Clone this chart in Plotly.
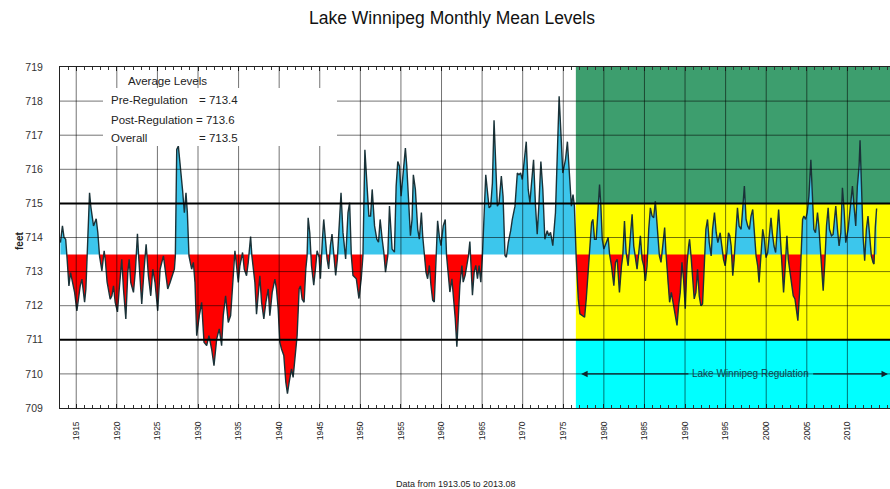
import numpy as np
import plotly.graph_objects as go

# ---------------------------------------------------------------- data
title_text = "Lake Winnipeg Monthly Mean Levels"
footer_text = "Data from 1913.05 to 2013.08"
reg_label = "Lake Winnipeg Regulation"

pre_avg = 713.4
post_avg = 713.6
overall_avg = 713.5

reg_start = 1976.55          # start of regulated operation
upper_limit = 715            # top of regulation range
lower_limit = 711            # bottom of regulation range
x_range = [1913.0, 2015.25]
y_range = [709, 719]
tick_years = list(range(1915, 2015, 5))
tick_levels = list(range(709, 720))

# monthly mean level, read at turning points (decimal year, feet)
years = [
    1913.05, 1913.30, 1913.50, 1913.70, 1913.85, 1913.95, 1914.10, 1914.30, 1914.55, 1914.80,
    1915.08, 1915.29, 1915.49, 1915.70, 1915.90, 1916.03, 1916.19, 1916.33, 1916.45, 1916.64,
    1916.80, 1916.93, 1917.13, 1917.46, 1917.66, 1917.87, 1918.16, 1918.44, 1918.60, 1918.80,
    1918.98, 1919.18, 1919.39, 1919.59, 1919.80, 1920.08, 1920.30, 1920.41, 1920.61, 1920.82,
    1921.11, 1921.35, 1921.52, 1921.72, 1922.05, 1922.30, 1922.54, 1922.70, 1923.07, 1923.36,
    1923.61, 1923.89, 1924.18, 1924.43, 1924.71, 1925.04, 1925.33, 1925.74, 1926.07, 1926.27,
    1926.56, 1926.84, 1927.09, 1927.21, 1927.38, 1927.58, 1927.79, 1928.11, 1928.32, 1928.52,
    1928.69, 1928.89, 1929.22, 1929.43, 1929.63, 1929.84, 1930.16, 1930.45, 1930.74, 1931.07,
    1931.35, 1931.68, 1931.97, 1932.30, 1932.62, 1932.91, 1933.11, 1933.40, 1933.73, 1934.02,
    1934.26, 1934.43, 1934.55, 1934.75, 1934.96, 1935.16, 1935.49, 1935.70, 1935.98, 1936.19,
    1936.48, 1936.64, 1937.01, 1937.21, 1937.42, 1937.62, 1937.83, 1938.11, 1938.36, 1938.65,
    1938.85, 1939.14, 1939.47, 1939.67, 1939.88, 1940.08, 1940.29, 1940.57, 1940.82, 1941.02,
    1941.23, 1941.52, 1941.72, 1941.93, 1942.21, 1942.46, 1942.62, 1942.83, 1943.07, 1943.28,
    1943.44, 1943.57, 1943.77, 1943.98, 1944.26, 1944.51, 1944.67, 1944.92, 1945.08, 1945.33,
    1945.49, 1945.70, 1945.90, 1946.10, 1946.31, 1946.51, 1946.72, 1946.96, 1947.17, 1947.37,
    1947.62, 1947.86, 1948.19, 1948.48, 1948.68, 1948.89, 1949.09, 1949.50, 1949.83, 1950.11,
    1950.32, 1950.56, 1950.81, 1951.05, 1951.26, 1951.46, 1951.75, 1952.03, 1952.24, 1952.44,
    1952.69, 1952.89, 1953.10, 1953.38, 1953.59, 1953.91, 1954.20, 1954.41, 1954.61, 1954.82,
    1955.02, 1955.31, 1955.55, 1955.72, 1955.96, 1956.17, 1956.37, 1956.53, 1956.78, 1957.07,
    1957.27, 1957.52, 1957.68, 1957.88, 1958.09, 1958.29, 1958.50, 1958.70, 1958.91, 1959.11,
    1959.31, 1959.52, 1959.72, 1959.93, 1960.21, 1960.46, 1960.62, 1960.83, 1961.03, 1961.28,
    1961.48, 1961.69, 1961.89, 1962.10, 1962.26, 1962.51, 1962.67, 1962.91, 1963.12, 1963.32,
    1963.49, 1963.65, 1963.81, 1964.02, 1964.22, 1964.43, 1964.63, 1964.84, 1965.04, 1965.45,
    1965.66, 1965.86, 1966.06, 1966.27, 1966.47, 1966.68, 1966.88, 1967.09, 1967.37, 1967.58,
    1967.82, 1967.99, 1968.23, 1968.52, 1968.72, 1969.05, 1969.34, 1969.54, 1969.74, 1969.95,
    1970.19, 1970.44, 1970.68, 1970.89, 1971.09, 1971.34, 1971.58, 1971.79, 1971.99, 1972.24,
    1972.48, 1972.73, 1973.02, 1973.22, 1973.43, 1973.71, 1974.04, 1974.24, 1974.49, 1974.69,
    1974.94, 1975.27, 1975.51, 1975.75, 1976.00, 1976.20, 1976.37, 1976.60, 1976.85, 1977.05,
    1977.34, 1977.63, 1977.83, 1978.08, 1978.24, 1978.49, 1978.65, 1978.85, 1979.06, 1979.26,
    1979.47, 1979.63, 1979.80, 1980.00, 1980.29, 1980.53, 1980.70, 1980.94, 1981.23, 1981.43,
    1981.64, 1981.92, 1982.17, 1982.33, 1982.54, 1982.74, 1982.99, 1983.23, 1983.48, 1983.68,
    1983.89, 1984.09, 1984.30, 1984.50, 1984.71, 1984.91, 1985.12, 1985.32, 1985.53, 1985.73,
    1985.94, 1986.14, 1986.34, 1986.51, 1986.67, 1986.84, 1987.04, 1987.25, 1987.49, 1987.65,
    1987.90, 1988.10, 1988.31, 1988.60, 1988.80, 1989.01, 1989.21, 1989.41, 1989.62, 1989.82,
    1990.03, 1990.23, 1990.44, 1990.56, 1990.77, 1990.93, 1991.13, 1991.34, 1991.54, 1991.75,
    1991.95, 1992.16, 1992.36, 1992.57, 1992.77, 1992.98, 1993.22, 1993.39, 1993.63, 1993.84,
    1994.04, 1994.33, 1994.53, 1994.74, 1994.94, 1995.15, 1995.35, 1995.51, 1995.68, 1995.88,
    1996.05, 1996.25, 1996.46, 1996.66, 1996.91, 1997.07, 1997.31, 1997.52, 1997.72, 1997.93,
    1998.13, 1998.34, 1998.54, 1998.75, 1998.95, 1999.12, 1999.32, 1999.57, 1999.77, 1999.98,
    2000.18, 2000.38, 2000.59, 2000.75, 2000.96, 2001.16, 2001.37, 2001.53, 2001.74, 2001.94,
    2002.14, 2002.35, 2002.55, 2002.72, 2002.92, 2003.13, 2003.33, 2003.54, 2003.74, 2003.90,
    2004.11, 2004.27, 2004.48, 2004.64, 2004.85, 2005.05, 2005.26, 2005.50, 2005.67, 2005.87,
    2006.07, 2006.32, 2006.48, 2006.69, 2006.81, 2007.02, 2007.22, 2007.43, 2007.63, 2007.79,
    2008.04, 2008.24, 2008.45, 2008.57, 2008.78, 2008.98, 2009.19, 2009.39, 2009.59, 2009.80,
    2010.09, 2010.41, 2010.62, 2010.82, 2011.03, 2011.23, 2011.44, 2011.56, 2011.72, 2011.93,
    2012.13, 2012.34, 2012.54, 2012.74, 2012.95, 2013.16, 2013.28, 2013.44, 2013.60,
]
levels = [
    713.85, 714.34, 714.00, 713.95, 713.46, 713.10, 712.58, 712.97, 712.68, 712.39,
    711.85, 712.29, 712.58, 712.78, 712.29, 712.10, 712.49, 713.36, 714.30, 715.31,
    714.90, 714.63, 714.34, 714.55, 714.14, 713.46, 713.02, 713.61, 713.30, 712.70,
    712.49, 712.19, 712.29, 712.58, 712.10, 711.82, 712.50, 712.88, 713.36, 712.49,
    711.61, 712.97, 713.36, 712.68, 712.39, 713.07, 714.11, 713.40, 712.05, 713.07,
    713.80, 712.88, 712.29, 713.07, 712.68, 711.85, 713.07, 713.46, 712.88, 712.49,
    712.68, 712.88, 713.07, 713.46, 716.58, 716.68, 716.19, 715.36, 714.73, 715.31,
    714.73, 713.46, 713.07, 713.27, 712.68, 711.12, 711.71, 712.10, 710.93, 710.83,
    711.12, 710.73, 710.24, 711.02, 711.32, 710.83, 711.71, 712.29, 711.51, 711.71,
    712.58, 713.46, 713.61, 713.17, 712.68, 713.17, 713.56, 713.07, 712.88, 713.27,
    714.03, 713.46, 712.68, 711.75, 712.49, 712.88, 712.10, 711.61, 712.10, 712.49,
    711.71, 712.39, 712.78, 712.49, 711.90, 710.93, 710.73, 710.54, 709.76, 709.42,
    709.76, 710.15, 709.90, 710.54, 711.12, 712.49, 712.58, 712.19, 712.10, 713.07,
    713.46, 714.58, 714.14, 713.18, 712.60, 713.18, 713.61, 713.42, 712.79, 713.95,
    714.53, 713.95, 713.37, 713.08, 713.76, 714.10, 713.47, 712.89, 713.37, 714.34,
    715.31, 714.15, 713.37, 714.73, 715.02, 713.47, 712.89, 712.79, 712.21, 712.79,
    713.47, 716.57, 715.70, 714.63, 714.63, 715.41, 714.34, 713.95, 713.86, 714.53,
    713.95, 713.57, 712.98, 713.47, 714.92, 713.66, 713.57, 715.50, 716.23, 716.09,
    715.21, 715.89, 716.62, 716.09, 714.83, 714.05, 714.53, 715.84, 715.41, 714.24,
    713.95, 714.73, 714.05, 713.47, 712.98, 712.79, 713.18, 712.60, 712.16, 712.11,
    713.47, 714.49, 714.05, 713.76, 714.34, 714.53, 713.47, 712.79, 712.40, 712.79,
    712.31, 711.63, 710.80, 711.82, 712.60, 713.18, 712.69, 712.89, 713.18, 713.47,
    713.88, 713.18, 712.31, 712.98, 713.18, 712.79, 713.18, 712.69, 713.47, 715.84,
    715.41, 714.87, 714.92, 715.60, 717.44, 716.18, 714.92, 715.02, 715.80, 715.21,
    713.47, 713.42, 713.86, 714.20, 714.53, 714.92, 715.89, 715.84, 715.89, 715.70,
    716.28, 716.81, 715.41, 715.02, 715.60, 716.28, 714.92, 714.10, 714.92, 716.23,
    715.41, 713.95, 714.20, 714.05, 714.15, 713.76, 714.73, 716.47, 718.14, 717.15,
    715.89, 716.28, 716.81, 715.89, 714.92, 715.26, 714.92, 713.36, 712.20, 711.76,
    711.71, 711.66, 712.20, 712.98, 713.56, 714.44, 714.53, 713.95, 713.95, 714.82,
    715.55, 714.92, 713.95, 713.66, 713.85, 714.00, 713.51, 713.17, 712.59, 713.27,
    713.36, 712.39, 713.17, 713.46, 714.48, 713.56, 713.17, 714.05, 714.68, 713.75,
    713.36, 713.07, 713.56, 714.05, 713.36, 713.17, 712.73, 713.17, 714.24, 714.87,
    714.63, 714.58, 715.07, 714.53, 714.05, 713.46, 713.27, 713.75, 714.29, 713.56,
    712.59, 712.10, 712.39, 712.00, 711.71, 711.42, 712.00, 712.39, 713.27, 712.78,
    711.91, 713.17, 713.75, 713.95, 713.36, 712.78, 712.20, 712.39, 713.07, 712.29,
    712.00, 712.05, 713.17, 714.24, 714.53, 713.85, 713.46, 714.24, 714.73, 714.14,
    713.85, 714.14, 713.75, 713.36, 713.17, 713.56, 714.14, 714.05, 713.75, 712.88,
    713.36, 714.24, 714.87, 714.34, 714.24, 714.73, 715.51, 714.53, 714.34, 714.24,
    714.63, 714.82, 714.05, 713.46, 713.17, 712.68, 713.36, 714.24, 713.95, 713.41,
    713.56, 714.14, 714.58, 714.14, 713.75, 713.56, 714.24, 714.82, 714.00, 713.17,
    712.39, 713.17, 714.05, 713.36, 712.98, 712.59, 712.29, 712.20, 711.91, 711.56,
    712.39, 713.36, 714.53, 714.63, 714.53, 714.73, 715.21, 716.28, 715.51, 714.24,
    714.14, 714.73, 714.34, 713.56, 713.17, 712.44, 713.27, 714.34, 714.87, 714.24,
    714.05, 714.09, 714.63, 714.92, 714.24, 713.75, 714.14, 715.46, 714.82, 713.85,
    714.24, 714.92, 715.51, 714.92, 714.34, 715.51, 716.09, 716.85, 715.51, 714.05,
    713.32, 714.24, 714.63, 714.14, 713.46, 713.27, 713.22, 714.30, 714.85,
]

# ---------------------------------------------------------------- styling
FONT = "Arial, Liberation Sans, sans-serif"
W, H = 890, 489
M_L, M_R, M_T, M_B = 60, 0, 67, 81
PLOT_W, PLOT_H = W - M_L - M_R, H - M_T - M_B

ABOVE_FILL = "#3cc6ec"
BELOW_FILL = "#ff0000"
LINE_COLOR = "#1a3238"
GREEN_BAND = "#3d9e6e"
YELLOW_BAND = "#ffff00"
CYAN_BAND = "#00ffff"
GRID_COLOR = "rgba(0,0,0,0.55)"


def px_to_paper(px, py):
    """Pixel position in the page -> paper fraction of the plot area."""
    return (px - M_L) / PLOT_W, (M_T + PLOT_H - py) / PLOT_H


# ---------------------------------------------------------------- fills
base = overall_avg
xs, ys = [years[0]], [levels[0]]
for i in range(1, len(years)):
    x0, y0, x1, y1 = years[i - 1], levels[i - 1], years[i], levels[i]
    if (y0 - base) * (y1 - base) < 0:
        t = (base - y0) / (y1 - y0)
        xs.append(x0 + t * (x1 - x0))
        ys.append(base)
    xs.append(x1)
    ys.append(y1)
xs = np.array(xs)
ys = np.array(ys)
above = np.maximum(ys, base)
below = np.minimum(ys, base)
base_line = np.full_like(xs, base)

fig = go.Figure()
common = dict(mode="lines", line=dict(width=0), hoverinfo="skip", showlegend=False)
fig.add_trace(go.Scatter(x=xs, y=base_line, **common))
fig.add_trace(go.Scatter(x=xs, y=above, fill="tonexty", fillcolor=ABOVE_FILL, **common))
fig.add_trace(go.Scatter(x=xs, y=base_line, **common))
fig.add_trace(go.Scatter(x=xs, y=below, fill="tonexty", fillcolor=BELOW_FILL, **common))
fig.add_trace(go.Scatter(x=years, y=levels, mode="lines", showlegend=False,
                         line=dict(color=LINE_COLOR, width=1.4)))

# ---------------------------------------------------------------- bands
shapes = []
for y0, y1, col in [(upper_limit, y_range[1] + 1, GREEN_BAND),
                    (lower_limit, upper_limit, YELLOW_BAND),
                    (y_range[0] - 1, lower_limit, CYAN_BAND)]:
    shapes.append(dict(type="rect", xref="x", yref="y", x0=reg_start, x1=x_range[1] + 1,
                       y0=y0, y1=y1, fillcolor=col, line=dict(width=0), layer="below"))

# grid drawn over the fills
for yr in tick_years:
    shapes.append(dict(type="line", xref="x", yref="y", x0=yr, x1=yr, y0=y_range[0], y1=y_range[1],
                       line=dict(color=GRID_COLOR, width=1), layer="above"))
for lv in tick_levels[1:-1]:
    if lv in (upper_limit, lower_limit):
        continue
    shapes.append(dict(type="line", xref="x", yref="y", x0=x_range[0], x1=x_range[1] + 1, y0=lv, y1=lv,
                       line=dict(color=GRID_COLOR, width=1), layer="above"))
for lv in (upper_limit, lower_limit):
    shapes.append(dict(type="line", xref="x", yref="y", x0=x_range[0], x1=x_range[1] + 1, y0=lv, y1=lv,
                       line=dict(color="#000000", width=2), layer="above"))

# white panel behind the averages
bx0, by1 = px_to_paper(103, 88)
bx1, by0 = px_to_paper(337, 146)
shapes.append(dict(type="rect", xref="paper", yref="paper", x0=bx0, x1=bx1, y0=by0, y1=by1,
                   fillcolor="#ffffff", line=dict(width=0), layer="above"))

# ---------------------------------------------------------------- annotations
ann = []


def text_at(px, py, s, size, **kw):
    x, y = px_to_paper(px, py)
    d = dict(xref="paper", yref="paper", x=x, y=y, text=s, showarrow=False,
             font=dict(family=FONT, size=size, color=kw.pop("color", "#222222")),
             xanchor=kw.pop("xanchor", "left"), yanchor="middle")
    d.update(kw)
    ann.append(d)


text_at(126, 81, "Average Levels", 11.5)
text_at(109, 100, "Pre-Regulation", 11.5)
text_at(197, 100, f"= {pre_avg:.1f}", 11.5)
text_at(109, 120, f"Post-Regulation = {post_avg:.1f}", 11.5)
text_at(109, 138, "Overall", 11.5)
text_at(197, 138, f"= {overall_avg:.1f}", 11.5)

text_at(19, 241, "<b>feet</b>", 10, xanchor="center", textangle=-90)
text_at(456, 484, footer_text, 9, xanchor="center")

# regulation period arrow
reg_y = 710.0
arrow_left_x, gap_left_x, gap_right_x, arrow_right_x = 1977.2, 1990.6, 2005.6, 2015.0
arrow = dict(xref="x", yref="y", axref="x", ayref="y", text="", showarrow=True,
             arrowhead=2, arrowsize=1, arrowwidth=1.3, arrowcolor="#10262e", standoff=0)
ann.append(dict(arrow, x=arrow_left_x, y=reg_y, ax=gap_left_x, ay=reg_y))
ann.append(dict(arrow, x=arrow_right_x, y=reg_y, ax=gap_right_x, ay=reg_y))
ann.append(dict(xref="x", yref="y", x=(gap_left_x + gap_right_x) / 2, y=reg_y, text=reg_label,
                showarrow=False, font=dict(family=FONT, size=10, color="#17404c"),
                xanchor="center", yanchor="middle"))

# ---------------------------------------------------------------- layout
fig.update_layout(
    width=W, height=H, autosize=False,
    margin=dict(l=M_L, r=M_R, t=M_T, b=M_B, pad=0),
    paper_bgcolor="#ffffff", plot_bgcolor="#ffffff",
    title=dict(text=title_text, x=452 / W, xanchor="center", y=1 - 18 / H, yanchor="middle",
               xref="container", yref="container",
               font=dict(family=FONT, size=17.5, color="#111111")),
    shapes=shapes, annotations=ann,
    xaxis=dict(range=x_range, tickvals=tick_years, ticktext=[str(y) for y in tick_years],
               tickangle=-90, tickfont=dict(family=FONT, size=8.5, color="#222222"),
               ticks="inside", ticklen=4, tickcolor="#333333", ticklabelstandoff=9,
               minor=dict(dtick=1, tick0=1913, ticks="inside", ticklen=3, tickcolor="#333333"),
               showgrid=False, zeroline=False, showline=True, linecolor="#222222",
               linewidth=1, mirror="ticks"),
    yaxis=dict(range=y_range, tickvals=tick_levels, ticks="", ticklabelstandoff=14,
               tickfont=dict(family=FONT, size=10.5, color="#333333"),
               showgrid=False, zeroline=False, showline=True, linecolor="#222222",
               linewidth=1, mirror=True),
)

fig.write_html("out.html")
